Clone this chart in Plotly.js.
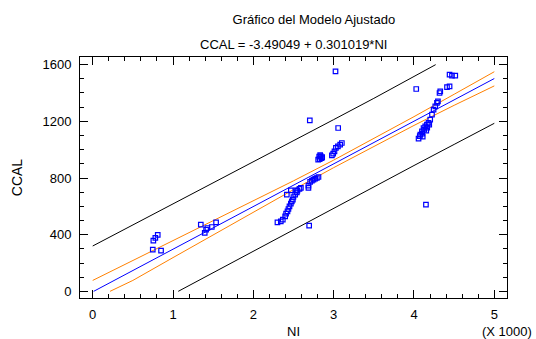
<!DOCTYPE html>
<html>
<head>
<meta charset="utf-8">
<script src="https://cdn.plot.ly/plotly-3.0.1.min.js"></script>
<style>html,body{margin:0;padding:0;background:#fff;}#chart{width:536px;height:339px;}</style>
</head>
<body>
<div id="chart"></div>
<script>
// Observed data: NI (raw units) and CCAL
var obsNI = [748,755,780,810,851,1346,1395,1412,1428,1483,1536,
  2300,2342,2367,2396,2408,2425,2437,2450,2467,2479,2492,2499,2521,2542,2549,2574,2592,
  2417,2467,2533,2695,2686,2707,2729,2749,2770,2791,2811,2686,
  2703,3023,3056,
  2807,2820,2838,2857,2826,2850,2832,
  2978,2994,3010,3028,3053,3081,3102,
  4028,4443,4473,4514,4411,4443,4318,4327,4149,
  4057,4079,4099,4119,4140,4161,4181,4202,4224,4244,4265,4286,4298,
  4072,4103,4128,4165,4190,4153,4109];
var obsCCAL = [294,358,377,398,287,471,412,435,447,454,487,
  487,494,506,529,548,565,581,600,619,635,647,666,682,699,711,723,730,
  682,713,713,464,730,772,781,788,795,800,807,746,
  1207,1553,1153,
  929,951,954,947,933,940,961,
  960,972,988,1012,1023,1035,1047,
  1428,1529,1522,1522,1442,1447,1400,1412,612,
  1078,1106,1129,1153,1165,1177,1189,1212,1247,1282,1306,1330,1341,
  1095,1113,1142,1156,1177,1134,1092];

// Fitted line
var fitNI   = [12, 500, 1000, 1500, 2000, 2500, 3000, 3500, 4000, 4500, 5000];
var fitCCAL = [0, 147, 298, 448, 599, 749, 900, 1050, 1201, 1351, 1502];

// Confidence limits
var confUpNI   = [0, 500, 1000, 1500, 2000, 2500, 3000, 3500, 4000, 4500, 5000];
var confUpCCAL = [77, 217, 356, 496, 638, 780, 926, 1077, 1233, 1391, 1550];
var confLoNI   = [216, 500, 1000, 1500, 2000, 2500, 3000, 3500, 4000, 4500, 5000];
var confLoCCAL = [0, 77, 238, 400, 560, 718, 873, 1023, 1171, 1313, 1450];

// Prediction limits
var predUpNI   = [0, 500, 1000, 1500, 2000, 2500, 3000, 3500, 4000, 4270];
var predUpCCAL = [320, 468, 616, 764, 913, 1062, 1212, 1362, 1514, 1600];
var predLoNI   = [1065, 1500, 2000, 2500, 3000, 3500, 4000, 4500, 5000];
var predLoCCAL = [0, 132, 285, 436, 588, 738, 888, 1037, 1186];

var xTickVals = [0, 1000, 2000, 3000, 4000, 5000];
var xTickText = ['0', '1', '2', '3', '4', '5'];
var yTickVals = [0, 400, 800, 1200, 1600];

var FONT = 'Liberation Sans, Arial, sans-serif';
var orange = 'rgb(255,128,0)';

var traces = [
  {x: predUpNI, y: predUpCCAL, mode: 'lines', line: {color: 'black', width: 1}, hoverinfo: 'skip'},
  {x: predLoNI, y: predLoCCAL, mode: 'lines', line: {color: 'black', width: 1}, hoverinfo: 'skip'},
  {x: confUpNI, y: confUpCCAL, mode: 'lines', line: {color: orange, width: 1}, hoverinfo: 'skip'},
  {x: confLoNI, y: confLoCCAL, mode: 'lines', line: {color: orange, width: 1}, hoverinfo: 'skip'},
  {x: fitNI, y: fitCCAL, mode: 'lines', line: {color: '#0000ff', width: 1}, hoverinfo: 'skip'},
  {x: obsNI, y: obsCCAL, mode: 'markers', marker: {symbol: 'square-open', size: 4.5, color: '#0000ff', line: {width: 1.2, color: '#0000ff'}}}
];

var axisCommon = {
  showline: true, linecolor: 'black', linewidth: 1, mirror: 'allticks',
  ticks: 'inside', ticklen: 8, tickcolor: 'black', tickwidth: 1,
  showgrid: false, zeroline: false,
  tickfont: {family: FONT, size: 13, color: 'black'}
};

var layout = {
  width: 536, height: 339,
  margin: {l: 80, r: 29, t: 57, b: 41},
  paper_bgcolor: 'white', plot_bgcolor: 'white',
  showlegend: false,
  font: {family: FONT, size: 13, color: 'black'},
  title: {text: 'Gráfico del Modelo Ajustado', font: {family: FONT, size: 13, color: 'black'},
          x: 0.5476, xanchor: 'center', y: 0.944, yanchor: 'middle', xref: 'paper'},
  xaxis: Object.assign({}, axisCommon, {
    range: [-158, 5158], tickmode: 'array', tickvals: xTickVals, ticktext: xTickText,
    minor: {dtick: 200, tick0: 0, ticks: 'inside', ticklen: 4, tickcolor: 'black'},
    ticklabelstandoff: 4,
    title: {text: 'NI', font: {family: FONT, size: 13, color: 'black'}, standoff: 8}
  }),
  yaxis: Object.assign({}, axisCommon, {
    range: [-47, 1654], tickmode: 'array', tickvals: yTickVals,
    minor: {dtick: 100, tick0: 0, ticks: 'inside', ticklen: 4, tickcolor: 'black'},
    ticklabelstandoff: 5,
    title: {text: 'CCAL', font: {family: FONT, size: 14, color: 'black'}, standoff: 16}
  }),
  annotations: [
    {text: 'CCAL = -3.49049 + 0.301019*NI', xref: 'paper', yref: 'paper', x: 0.5, y: (298-45)/241,
     xanchor: 'center', yanchor: 'middle', showarrow: false, font: {family: FONT, size: 13, color: 'black'}},
    {text: '(X 1000)', xref: 'paper', yref: 'paper', x: 1.0, y: (298-331)/241,
     xanchor: 'center', yanchor: 'middle', showarrow: false, font: {family: FONT, size: 13, color: 'black'}}
  ]
};

Plotly.newPlot('chart', traces, layout, {staticPlot: true, displayModeBar: false});
</script>
</body>
</html>
